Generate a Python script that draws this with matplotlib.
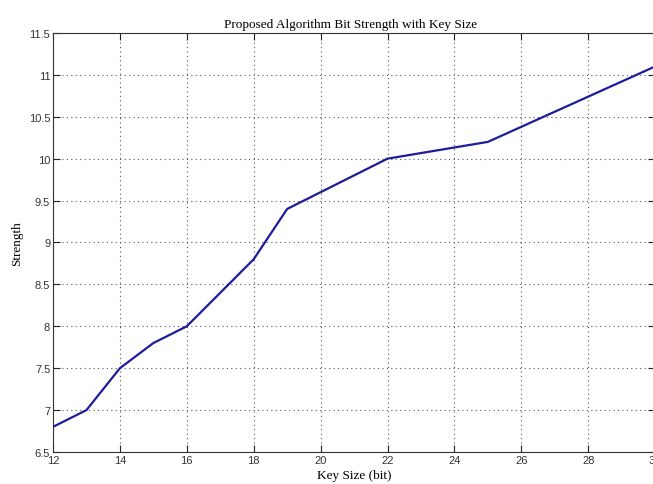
import matplotlib
matplotlib.use('Agg')
import matplotlib.pyplot as plt

key_size = [12, 13, 14, 15, 16, 17, 18, 19, 22, 25, 30]
strength = [6.8, 7.0, 7.5, 7.8, 8.0, 8.4, 8.8, 9.4, 10.0, 10.2, 11.1]

x_ticks = [12, 14, 16, 18, 20, 22, 24, 26, 28, 30]
y_ticks = [6.5, 7, 7.5, 8, 8.5, 9, 9.5, 10, 10.5, 11, 11.5]

fig = plt.figure(figsize=(6.53, 4.85), dpi=100)
ax = fig.add_axes([0.0812, 0.066, 0.922, 0.864])

ax.plot(key_size, strength, color='#1c1c9c', linewidth=1.6)

ax.set_xlim(12, 30)
ax.set_ylim(6.5, 11.5)
ax.set_xticks(x_ticks)
ax.set_yticks(y_ticks)
ax.set_xticklabels([str(t) for t in x_ticks])
ax.set_yticklabels(['%g' % t for t in y_ticks])

ax.grid(True, color='#555555', linestyle=(0, (1, 3)), linewidth=0.8)
ax.tick_params(direction='in', top=True, right=True, length=5, width=0.8,
               colors='#222222', labelsize=8, pad=2)
for lbl in ax.get_xticklabels() + ax.get_yticklabels():
    lbl.set_fontfamily('Liberation Sans')
    lbl.set_color('#333333')
for s in ax.spines.values():
    s.set_color('#333333')
    s.set_linewidth(0.8)

ax.set_title('Proposed Algorithm Bit Strength with Key Size',
             fontfamily='Liberation Serif', fontsize=9.5, pad=4, x=0.495)
ax.set_xlabel('Key Size (bit)', fontfamily='Liberation Serif', fontsize=9.5, labelpad=3)
ax.set_ylabel('Strength', fontfamily='Liberation Serif', fontsize=9.5, labelpad=4)

plt.savefig('out.png', dpi=100)
